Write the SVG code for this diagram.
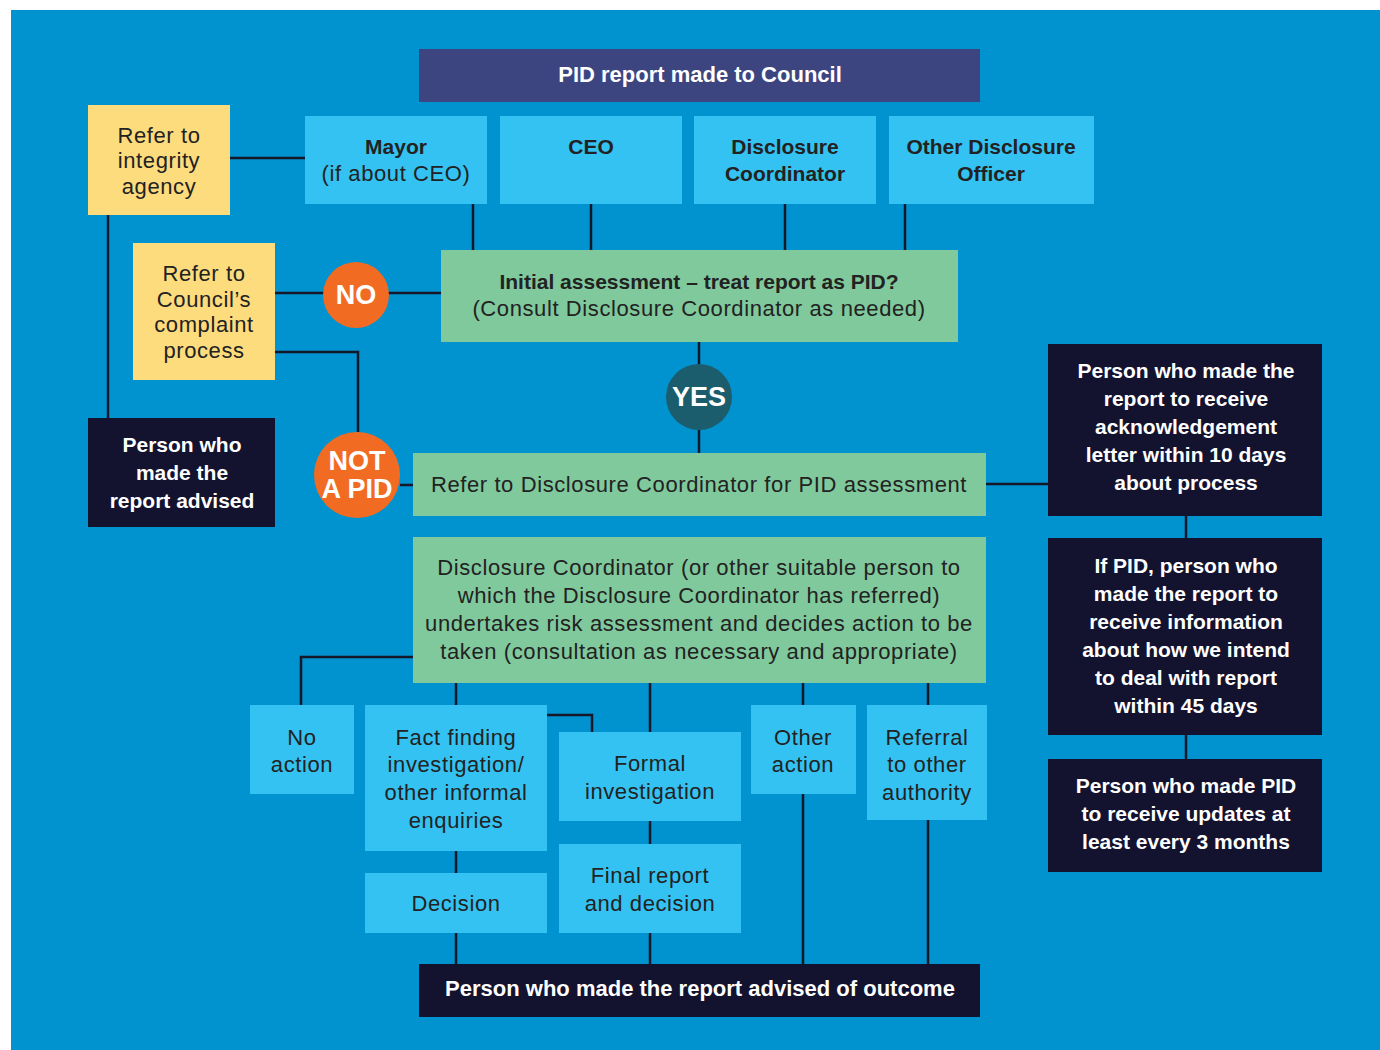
<svg xmlns="http://www.w3.org/2000/svg" width="1380" height="1050" viewBox="0 0 1380 1050">
<style>
.bg{fill:#0193cf}
.lb{fill:#34c2f2}
.gr{fill:#80c99d}
.ye{fill:#fddc7d}
.dk{fill:#13132f}
.ti{fill:#3d4580}
.or{fill:#f26b22}
.tl{fill:#1b5d6c}
text{font-family:"Liberation Sans","Noto Sans",Arial,sans-serif;text-anchor:middle}
.t{font-size:22px;fill:#222;letter-spacing:0.6px}
.tb{font-size:21px;fill:#222;font-weight:bold}
.w{font-size:21px;fill:#fff;font-weight:bold}
.w2{font-size:22px;fill:#fff;font-weight:bold}
.c{font-size:27px;fill:#fff;font-weight:bold}
.ln{stroke:#16182a;stroke-width:2.5;fill:none}
</style>
<rect x="0" y="0" width="1380" height="1050" fill="#fff"/>
<rect class="bg" x="11" y="10" width="1369" height="1040"/>

<g id="connectors">
<path class="ln" d="M230 158H305"/>
<path class="ln" d="M108 215V418"/>
<path class="ln" d="M473 204V250M591 204V250M785 204V250M905 204V250"/>
<path class="ln" d="M275 293H441"/>
<path class="ln" d="M275 352H358V432"/>
<path class="ln" d="M400 485H413"/>
<path class="ln" d="M699 342V453"/>
<path class="ln" d="M986 484H1048"/>
<path class="ln" d="M1186 516V538M1186 735V759"/>
<path class="ln" d="M413 657H301V705"/>
<path class="ln" d="M456 683V705M650 683V732M803 683V705M928 683V705"/>
<path class="ln" d="M547 715H592V732"/>
<path class="ln" d="M456 851V873M650 821V844"/>
<path class="ln" d="M456 933V964M650 933V964M803 794V964M928 820V964"/>
</g>

<g id="title"><rect class="ti" x="419" y="49" width="561" height="53"/><text class="w2" x="700" y="82">PID report made to Council</text></g>

<g id="integrity"><rect class="ye" x="88" y="105" width="142" height="110"/>
<text class="t" x="159" y="143">Refer to</text><text class="t" x="159" y="168">integrity</text><text class="t" x="159" y="194">agency</text></g>

<g id="mayor"><rect class="lb" x="305" y="116" width="182" height="88"/>
<text class="tb" x="396" y="154">Mayor</text><text class="t" x="396" y="181">(if about CEO)</text></g>
<g id="ceo"><rect class="lb" x="500" y="116" width="182" height="88"/><text class="tb" x="591" y="154">CEO</text></g>
<g id="dc"><rect class="lb" x="694" y="116" width="182" height="88"/>
<text class="tb" x="785" y="154">Disclosure</text><text class="tb" x="785" y="181">Coordinator</text></g>
<g id="odo"><rect class="lb" x="889" y="116" width="205" height="88"/>
<text class="tb" x="991" y="154">Other Disclosure</text><text class="tb" x="991" y="181">Officer</text></g>

<g id="initial"><rect class="gr" x="441" y="250" width="517" height="92"/>
<text class="tb" x="699" y="289">Initial assessment – treat report as PID?</text>
<text class="t" x="699" y="316">(Consult Disclosure Coordinator as needed)</text></g>

<g id="complaint"><rect class="ye" x="133" y="243" width="142" height="137"/>
<text class="t" x="204" y="281">Refer to</text><text class="t" x="204" y="307">Council’s</text><text class="t" x="204" y="332">complaint</text><text class="t" x="204" y="358">process</text></g>

<g id="no"><circle class="or" cx="356" cy="295" r="33"/><text class="c" x="356" y="304">NO</text></g>
<g id="notpid"><circle class="or" cx="357" cy="475" r="43"/><text class="c" x="357" y="470">NOT</text><text class="c" x="357" y="498">A PID</text></g>

<g id="advised"><rect class="dk" x="88" y="418" width="187" height="109"/>
<text class="w" x="182" y="452">Person who</text><text class="w" x="182" y="480">made the</text><text class="w" x="182" y="508">report advised</text></g>

<g id="yes"><circle class="tl" cx="699" cy="397" r="33"/><text class="c" x="699" y="406">YES</text></g>

<g id="refer"><rect class="gr" x="413" y="453" width="573" height="63"/>
<text class="t" x="699" y="492">Refer to Disclosure Coordinator for PID assessment</text></g>

<g id="ack"><rect class="dk" x="1048" y="344" width="274" height="172"/>
<text class="w" x="1186" y="378">Person who made the</text><text class="w" x="1186" y="406">report to receive</text><text class="w" x="1186" y="434">acknowledgement</text><text class="w" x="1186" y="462">letter within 10 days</text><text class="w" x="1186" y="490">about process</text></g>
<g id="info"><rect class="dk" x="1048" y="538" width="274" height="197"/>
<text class="w" x="1186" y="573">If PID, person who</text><text class="w" x="1186" y="601">made the report to</text><text class="w" x="1186" y="629">receive information</text><text class="w" x="1186" y="657">about how we intend</text><text class="w" x="1186" y="685">to deal with report</text><text class="w" x="1186" y="713">within 45 days</text></g>
<g id="updates"><rect class="dk" x="1048" y="759" width="274" height="113"/>
<text class="w" x="1186" y="793">Person who made  PID</text><text class="w" x="1186" y="821">to receive updates at</text><text class="w" x="1186" y="849">least every 3 months</text></g>

<g id="risk"><rect class="gr" x="413" y="537" width="573" height="146"/>
<text class="t" x="699" y="575">Disclosure Coordinator (or other suitable person to</text>
<text class="t" x="699" y="603">which the Disclosure Coordinator has referred)</text>
<text class="t" x="699" y="631">undertakes risk assessment and decides action to be</text>
<text class="t" x="699" y="659">taken (consultation as necessary and appropriate)</text></g>

<g id="noaction"><rect class="lb" x="250" y="705" width="104" height="89"/>
<text class="t" x="302" y="745">No</text><text class="t" x="302" y="772">action</text></g>
<g id="fact"><rect class="lb" x="365" y="705" width="182" height="146"/>
<text class="t" x="456" y="745">Fact finding</text><text class="t" x="456" y="772">investigation/</text><text class="t" x="456" y="800">other informal</text><text class="t" x="456" y="828">enquiries</text></g>
<g id="formal"><rect class="lb" x="559" y="732" width="182" height="89"/>
<text class="t" x="650" y="771">Formal</text><text class="t" x="650" y="799">investigation</text></g>
<g id="other"><rect class="lb" x="751" y="705" width="105" height="89"/>
<text class="t" x="803" y="745">Other</text><text class="t" x="803" y="772">action</text></g>
<g id="referral"><rect class="lb" x="867" y="705" width="120" height="115"/>
<text class="t" x="927" y="745">Referral</text><text class="t" x="927" y="772">to other</text><text class="t" x="927" y="800">authority</text></g>
<g id="decision"><rect class="lb" x="365" y="873" width="182" height="60"/><text class="t" x="456" y="911">Decision</text></g>
<g id="final"><rect class="lb" x="559" y="844" width="182" height="89"/>
<text class="t" x="650" y="883">Final report</text><text class="t" x="650" y="911">and decision</text></g>

<g id="outcome"><rect class="dk" x="419" y="964" width="561" height="53"/>
<text class="w2" x="700" y="996">Person who made the report advised of outcome</text></g>
</svg>
